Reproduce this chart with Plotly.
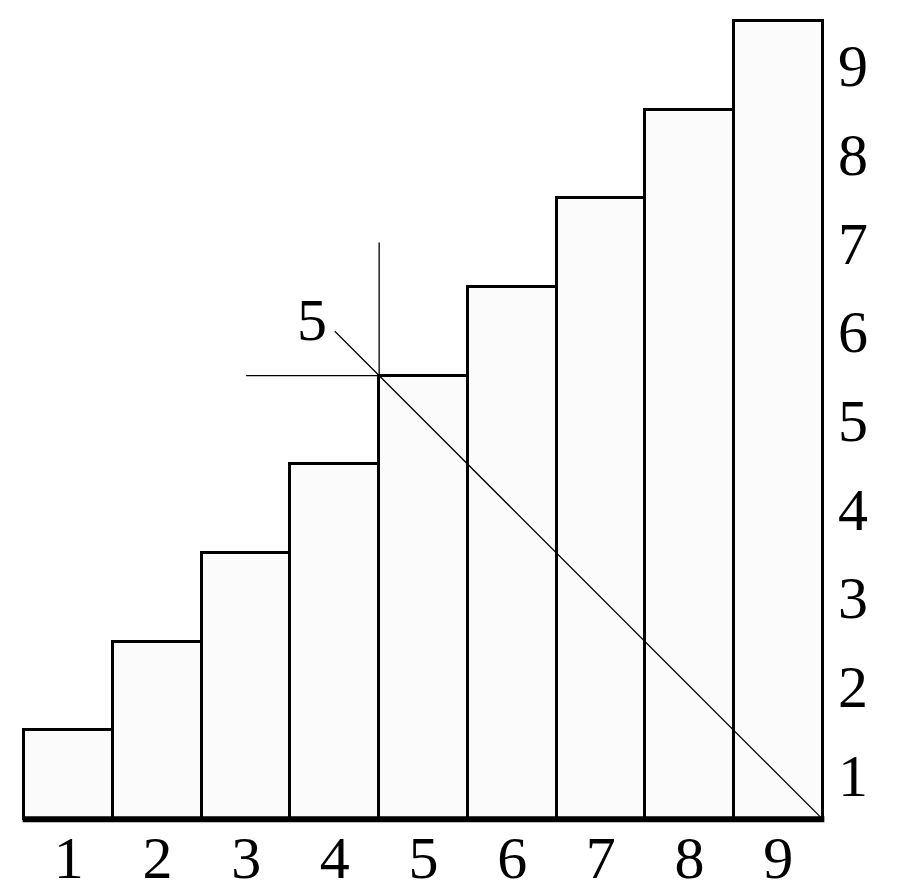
import plotly.graph_objects as go

categories = [1, 2, 3, 4, 5, 6, 7, 8, 9]
values = [1, 2, 3, 4, 5, 6, 7, 8, 9]
x_tick_labels = ["1", "2", "3", "4", "5", "6", "7", "8", "9"]
y_tick_vals = [0.5, 1.5, 2.5, 3.5, 4.5, 5.5, 6.5, 7.5, 8.5]
y_tick_labels = ["1", "2", "3", "4", "5", "6", "7", "8", "9"]
marker_label = "5"

FONT = "Liberation Serif"
FS = 60

fig = go.Figure()
fig.add_trace(go.Bar(
    x=categories, y=values, width=1,
    marker=dict(color="#fbfbfb", line=dict(color="black", width=3)),
    showlegend=False, hoverinfo="skip",
))

# baseline
fig.add_shape(type="line", x0=0.48, x1=9.52, y0=0, y1=0,
              line=dict(color="black", width=6), layer="above")
# diagonal
fig.add_shape(type="line", x0=9.5, y0=0, x1=4.0, y1=5.5,
              line=dict(color="black", width=1.3), layer="above")
# crosshair
fig.add_shape(type="line", x0=4.5, y0=5, x1=4.5, y1=6.5,
              line=dict(color="black", width=1.3), layer="above")
fig.add_shape(type="line", x0=3.0, y0=5, x1=4.5, y1=5,
              line=dict(color="black", width=1.3), layer="above")

fig.add_annotation(x=3.74, y=5.63, text=marker_label, showarrow=False,
                   font=dict(family=FONT, size=FS, color="black"),
                   xanchor="center", yanchor="middle")

fig.update_layout(
    width=892, height=888,
    margin=dict(l=12, r=73, t=4, b=68, autoexpand=False),
    paper_bgcolor="white", plot_bgcolor="white",
    bargap=0,
    xaxis=dict(range=[0.45, 9.55], tickvals=categories, ticktext=x_tick_labels,
               showgrid=False, zeroline=False, showline=False, automargin=False,
               ticks="", ticklabelstandoff=-11,
               tickfont=dict(family=FONT, size=FS, color="black")),
    yaxis=dict(range=[-0.1, 9.1], side="right", tickvals=y_tick_vals, ticktext=y_tick_labels,
               showgrid=False, zeroline=False, showline=False, automargin=False,
               ticks="", ticklabelstandoff=10,
               tickfont=dict(family=FONT, size=FS, color="black")),
)

fig.write_html("out.html")
